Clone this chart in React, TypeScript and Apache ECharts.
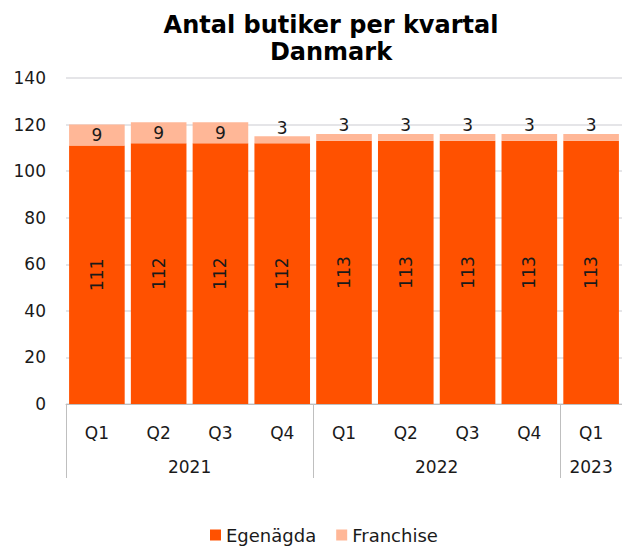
import React, { useEffect, useRef } from "react";
import * as echarts from "echarts";

const quarters = ["Q1", "Q2", "Q3", "Q4", "Q1", "Q2", "Q3", "Q4", "Q1"];
const years = ["2021", "2022", "2023"];
const quartersPerYear = [4, 4, 1];
const egenagda = [111, 112, 112, 112, 113, 113, 113, 113, 113];
const franchise = [9, 9, 9, 3, 3, 3, 3, 3, 3];
const yTicks = { min: 0, max: 140, interval: 20 };

const FONT = "DejaVu Sans, Verdana, sans-serif";
const FS = 17;

export default function App() {
  const ref = useRef<HTMLDivElement>(null);
  useEffect(() => {
    if (!ref.current) return;
    const chart = echarts.init(ref.current, undefined, { renderer: "svg" });

    // half-category slots for the year axis (boundaryGap false)
    const nSlots = quarters.length * 2 + 1;
    const yearData: string[] = new Array(nSlots).fill("");
    const tickSlots = new Set<number>([0]);
    let start = 0;
    years.forEach((y, i) => {
      const n = quartersPerYear[i];
      yearData[2 * start + n] = y;
      start += n;
      tickSlots.add(start * 2);
    });
    const labelSlots = new Set<number>();
    yearData.forEach((v, i) => {
      if (v) labelSlots.add(i);
    });

    chart.setOption({
      animation: false,
      textStyle: { fontFamily: FONT },
      title: {
        text: "Antal butiker per kvartal\nDanmark",
        left: 326,
        textAlign: "center",
        top: 6,
        textStyle: {
          fontFamily: FONT,
          fontWeight: "bold",
          fontSize: 24,
          lineHeight: 27,
          color: "#000",
        },
      },
      legend: {
        bottom: 2,
        left: 205,
        itemWidth: 11,
        itemHeight: 11,
        itemGap: 20,
        icon: "rect",
        textStyle: { fontFamily: FONT, fontSize: 18, color: "#1a1a1a" },
        data: ["Egenägda", "Franchise"],
      },
      grid: { left: 66, top: 78, bottom: 147, width: 562 },
      xAxis: [
        {
          type: "category",
          data: quarters,
          position: "bottom",
          axisLine: { show: true, lineStyle: { color: "#bfbfbf", width: 1 } },
          axisTick: { show: false },
          axisLabel: { fontFamily: FONT, fontSize: FS, color: "#1a1a1a", margin: 20 },
        },
        {
          type: "category",
          data: yearData,
          position: "bottom",
          boundaryGap: false,
          axisLine: { show: false },
          axisTick: {
            show: true,
            length: 74,
            interval: (i: number) => tickSlots.has(i),
            lineStyle: { color: "#bfbfbf", width: 1 },
          },
          axisLabel: {
            fontFamily: FONT,
            fontSize: FS,
            color: "#1a1a1a",
            margin: 54,
            interval: (i: number) => labelSlots.has(i),
          },
          splitLine: { show: false },
        },
      ],
      yAxis: {
        type: "value",
        min: yTicks.min,
        max: yTicks.max,
        interval: yTicks.interval,
        axisLine: { show: false },
        axisTick: { show: false },
        axisLabel: { fontFamily: FONT, fontSize: FS, color: "#1a1a1a", margin: 20 },
        splitLine: { lineStyle: { color: "#dcdce0", width: 1.5 } },
      },
      series: [
        {
          name: "Egenägda",
          type: "bar",
          stack: "total",
          barCategoryGap: "10%",
          itemStyle: { color: "#ff5100" },
          label: {
            show: true,
            position: "inside",
            rotate: 90,
            fontFamily: FONT,
            fontSize: FS,
            color: "#1a1a1a",
          },
          data: egenagda,
        },
        {
          name: "Franchise",
          type: "bar",
          stack: "total",
          barCategoryGap: "10%",
          itemStyle: { color: "#ffb797" },
          label: {
            show: true,
            fontFamily: FONT,
            fontSize: FS,
            color: "#1a1a1a",
          },
          data: franchise.map((v) => ({
            value: v,
            label: v >= 5 ? { position: "inside" } : { position: "top", distance: 0 },
          })),
        },
      ],
    });
    return () => chart.dispose();
  }, []);
  return (
    <div
      ref={ref}
      style={{ position: "fixed", left: 0, top: 0, width: 622, height: 551, background: "#fff" }}
    />
  );
}
